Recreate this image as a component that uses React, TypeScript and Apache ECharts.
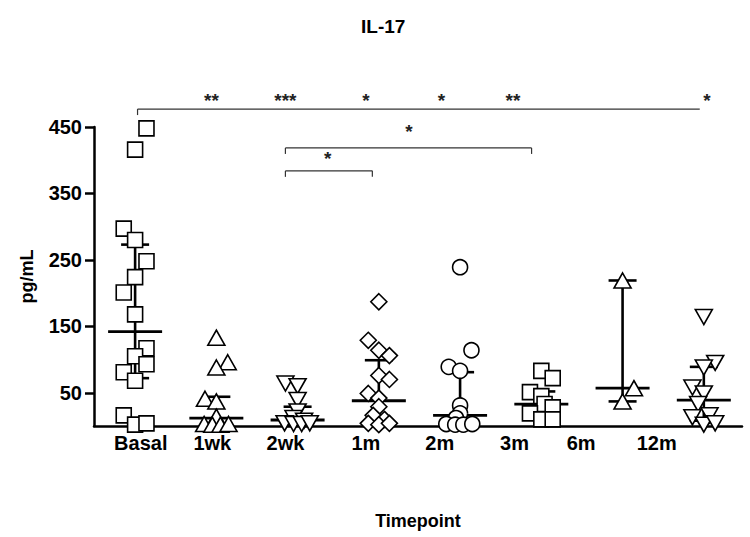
import React, { useEffect, useRef } from "react";
import * as echarts from "echarts";

// ---------- data ----------
const categories = ["Basal", "1wk", "2wk", "1m", "2m", "3m", "6m", "12m"];
// where the category labels sit on the x axis (axis units; groups are at 0..7)
const labelPositions = [0.07, 0.95, 1.85, 2.84, 3.75, 4.67, 5.49, 6.42];
const yTicks = [50, 150, 250, 350, 450];

// [value, horizontal jitter in group units]
const basal = [[448, 0.14], [416, 0], [297, -0.14], [280, 0], [248, 0.14], [224, 0], [201, -0.14], [168, 0], [117, 0.14], [105, 0], [93, 0.14], [81, -0.14], [68, 0], [16, -0.14], [2, 0], [4, 0.14]];
const wk1 = [[133, 0], [96, 0.14], [88, 0], [41, -0.14], [37, 0], [14, 0], [3, -0.15], [2, -0.05], [2, 0.05], [3, 0.15]];
const wk2 = [[64, -0.15], [60, 0], [39, 0], [22, 0], [12, -0.05], [8, 0.08], [4, -0.16], [3, -0.05], [3, 0.05], [4, 0.15]];
const m1 = [[187, 0], [129, -0.13], [114, 0], [106, 0.13], [76, 0], [70, 0.13], [49, -0.13], [42, 0], [29, 0], [16, -0.07], [10, 0.07], [4, -0.13], [2, 0], [4, 0.13]];
const m2 = [[239, 0], [114, 0.14], [89, -0.14], [83, 0], [31, 0], [19, 0], [12, -0.05], [3, -0.17], [2, -0.06], [2, 0.04], [3, 0.15]];
const m3 = [[83, 0], [72, 0.14], [51, -0.14], [45, 0], [33, 0.04], [28, 0.14], [19, -0.14], [10, 0], [10, 0.14]];
const m6 = [[219, 0], [57, 0.14], [37, 0]];
const m12 = [[164, 0], [95, 0.14], [88, 0], [58, -0.14], [49, 0], [33, -0.07], [13, -0.14], [16, 0.07], [2, 0], [4, 0.14]];

const groups = [basal, wk1, wk2, m1, m2, m3, m6, m12];
const symbols = ["rect", "triangle", "triangle", "diamond", "circle", "rect", "triangle", "triangle"];
const rotations = [0, 0, 180, 0, 0, 0, 0, 180];

const medians = [142, 12, 9, 38, 16, 33, 57, 39];
const lowers = [72, 2, 2, 3, 2, 12, 37, 8];
const uppers = [273, 44, 29, 99, 81, 52, 219, 89];

// brackets: [from, to, y, leftTick, rightTick]
const brackets = [
  [0.03, 6.95, 477, 1, 0],
  [1.85, 4.88, 418.5, 1, 1],
  [1.85, 2.92, 384, 1, 1],
];
// significance stars: [x, y, text]
const stars: [number, number, string][] = [
  [0.94, 490, "**"],
  [1.85, 490, "***"],
  [2.84, 490, "*"],
  [3.77, 490, "*"],
  [4.65, 490, "**"],
  [7.04, 490, "*"],
  [3.37, 443, "*"],
  [2.37, 402, "*"],
];

const FONT = "'Liberation Sans', Arial, sans-serif";

export default function App() {
  const ref = useRef<HTMLDivElement>(null);
  useEffect(() => {
    document.body.style.margin = "0";
    if (!ref.current) return;
    const chart = echarts.init(ref.current, null, { renderer: "svg" });

    const symbolSizes: Record<string, any> = {
      rect: 15,
      triangle: [17, 15],
      diamond: 16,
      circle: 15,
    };

    const scatterSeries = groups.map((g, i) => ({
      type: "scatter",
      name: categories[i],
      symbol: symbols[i],
      symbolSize: symbolSizes[symbols[i]],
      symbolRotate: rotations[i],
      clip: false,
      z: 5,
      itemStyle: { color: "#fff", borderColor: "#000", borderWidth: 1.6, opacity: 1 },
      data: g.map(([v, j]) => [i + j, v]),
    }));

    const option: any = {
      animation: false,
      backgroundColor: "#fff",
      title: {
        text: "IL-17",
        left: 356,
        top: 12,
        textStyle: { fontFamily: FONT, fontWeight: "bold", fontSize: 19, color: "#000" },
      },
      grid: { left: 94, right: 8, top: 127, bottom: 111 },
      xAxis: {
        type: "value",
        min: -0.506,
        max: 7.47,
        name: "Timepoint",
        nameLocation: "middle",
        nameGap: 86,
        nameTextStyle: { fontFamily: FONT, fontWeight: "bold", fontSize: 18, color: "#000" },
        axisLine: { show: true, onZero: false, lineStyle: { color: "#000", width: 2.5 } },
        axisTick: { show: false },
        splitLine: { show: false },
        axisLabel: {
          customValues: labelPositions,
          margin: 7,
          fontFamily: FONT,
          fontWeight: "bold",
          fontSize: 20,
          color: "#000",
          formatter: (v: number) => {
            let best = 0;
            labelPositions.forEach((p, k) => {
              if (Math.abs(p - v) < Math.abs(labelPositions[best] - v)) best = k;
            });
            return categories[best];
          },
        },
      },
      yAxis: {
        type: "value",
        min: 0,
        max: 450,
        name: "pg/mL",
        nameLocation: "middle",
        nameGap: 58,
        nameRotate: 90,
        nameTextStyle: { fontFamily: FONT, fontWeight: "bold", fontSize: 18, color: "#000" },
        axisLine: { show: true, onZero: false, lineStyle: { color: "#000", width: 2.5 } },
        axisTick: { show: true, length: 9, customValues: yTicks, lineStyle: { color: "#000", width: 2.5 } },
        splitLine: { show: false },
        axisLabel: {
          customValues: yTicks,
          margin: 12,
          fontFamily: FONT,
          fontWeight: "bold",
          fontSize: 20,
          color: "#000",
        },
      },
      series: [
        {
          type: "custom",
          name: "median-iqr",
          clip: false,
          z: 3,
          data: medians.map((m, i) => [i, m, lowers[i], uppers[i]]),
          renderItem: (params: any, api: any) => {
            const x = api.value(0);
            const pm = api.coord([x, api.value(1)]);
            const plo = api.coord([x, api.value(2)]);
            const phi = api.coord([x, api.value(3)]);
            const st = { stroke: "#000", lineWidth: 2.6 };
            return {
              type: "group",
              children: [
                { type: "line", shape: { x1: plo[0], y1: plo[1], x2: phi[0], y2: phi[1] }, style: st },
                { type: "line", shape: { x1: plo[0] - 14, y1: plo[1], x2: plo[0] + 14, y2: plo[1] }, style: st },
                { type: "line", shape: { x1: phi[0] - 14, y1: phi[1], x2: phi[0] + 14, y2: phi[1] }, style: st },
                { type: "line", shape: { x1: pm[0] - 27, y1: pm[1], x2: pm[0] + 27, y2: pm[1] }, style: { stroke: "#000", lineWidth: 2.8 } },
              ],
            };
          },
        },
        ...scatterSeries,
        {
          type: "custom",
          name: "brackets",
          clip: false,
          z: 6,
          data: brackets,
          renderItem: (params: any, api: any) => {
            const a = api.coord([api.value(0), api.value(2)]);
            const b = api.coord([api.value(1), api.value(2)]);
            const st = { stroke: "#333", lineWidth: 1.2 };
            const ch: any[] = [{ type: "line", shape: { x1: a[0], y1: a[1], x2: b[0], y2: b[1] }, style: st }];
            if (api.value(3)) ch.push({ type: "line", shape: { x1: a[0], y1: a[1], x2: a[0], y2: a[1] + 6 }, style: st });
            if (api.value(4)) ch.push({ type: "line", shape: { x1: b[0], y1: b[1], x2: b[0], y2: b[1] + 6 }, style: st });
            return { type: "group", children: ch };
          },
        },
        {
          type: "custom",
          name: "stars",
          clip: false,
          z: 6,
          data: stars.map((s) => [s[0], s[1]]),
          renderItem: (params: any, api: any) => {
            const p = api.coord([api.value(0), api.value(1)]);
            return {
              type: "text",
              x: p[0],
              y: p[1],
              style: {
                text: stars[params.dataIndex][2],
                fill: "#222",
                fontSize: 19,
                fontWeight: "bold",
                fontFamily: FONT,
                align: "center",
                verticalAlign: "middle",
              },
            };
          },
        },
      ],
    };
    chart.setOption(option);
    return () => chart.dispose();
  }, []);
  return <div ref={ref} style={{ width: 750, height: 537 }} />;
}
